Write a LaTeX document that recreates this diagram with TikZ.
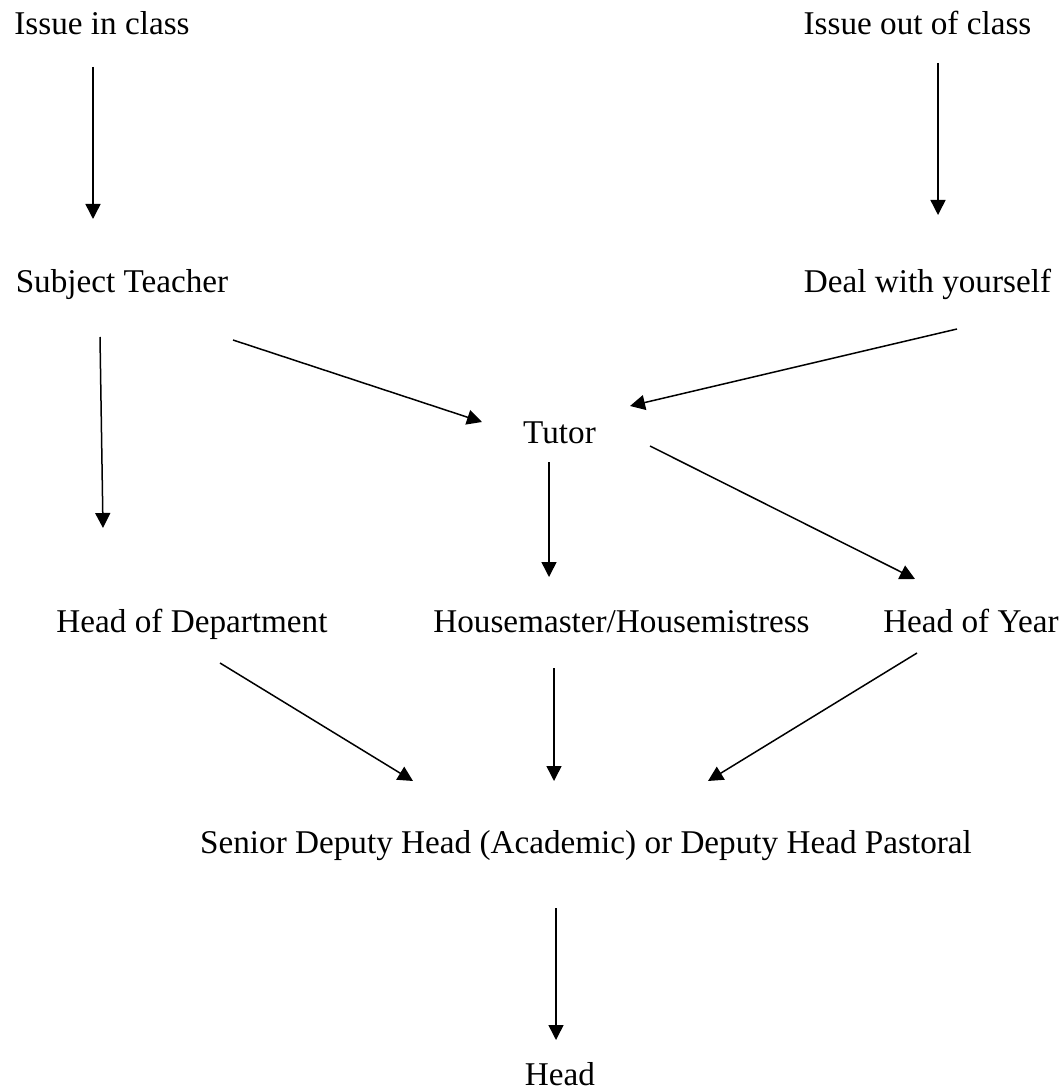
\documentclass[tikz,border=0pt]{standalone}
\usepackage{fontspec}
\setmainfont{Liberation Serif}
\usetikzlibrary{arrows.meta}

\begin{document}
\begin{tikzpicture}
[ x=0.5pt, y=-0.5pt
, label/.style={anchor=base, inner sep=0pt, font=\fontsize{16.6}{20}\selectfont}
, point/.style={coordinate}
, arrow/.style={line width=0.75pt, -{Triangle[length=7.5pt,width=7.5pt]}}
]
\useasboundingbox (0,0) rectangle (1063,1090);
% Labels:
\node (inclass) [label] at (102,35) {Issue in class};
\node (outclass) [label] at (917.5,35) {Issue out of class};
\node (teacher) [label] at (122,293) {Subject Teacher};
\node (self) [label] at (927.5,293) {Deal with yourself};
\node (tutor) [label] at (559.5,444) {Tutor};
\node (hod) [label] at (192,632) {Head of Department};
\node (house) [label] at (621.5,632) {Housemaster/Housemistress};
\node (hoy) [label] at (971,632) {Head of Year};
\node (deputy) [label] at (586,853) {Senior Deputy Head (Academic) or Deputy Head Pastoral};
\node (head) [label] at (560,1085) {Head};
% Arrow ends:
\coordinate (p1) at (93,67);     \coordinate (q1) at (93,219);
\coordinate (p2) at (938,63);    \coordinate (q2) at (938,215);
\coordinate (p3) at (100,337);   \coordinate (q3) at (103,528);
\coordinate (p4) at (233,340);   \coordinate (q4) at (482,422);
\coordinate (p5) at (957,329);   \coordinate (q5) at (630,406);
\coordinate (p6) at (549,462);   \coordinate (q6) at (549,577);
\coordinate (p7) at (650,446);   \coordinate (q7) at (915,579);
\coordinate (p8) at (220,663);   \coordinate (q8) at (413,781);
\coordinate (p9) at (554,668);   \coordinate (q9) at (554,781);
\coordinate (p10) at (917,653);  \coordinate (q10) at (708,781);
\coordinate (p11) at (556,908);  \coordinate (q11) at (556,1040);
% Arrows:
\foreach \i in {1,...,11}
  \draw [arrow] (p\i) -- (q\i);
\end{tikzpicture}
\end{document}
